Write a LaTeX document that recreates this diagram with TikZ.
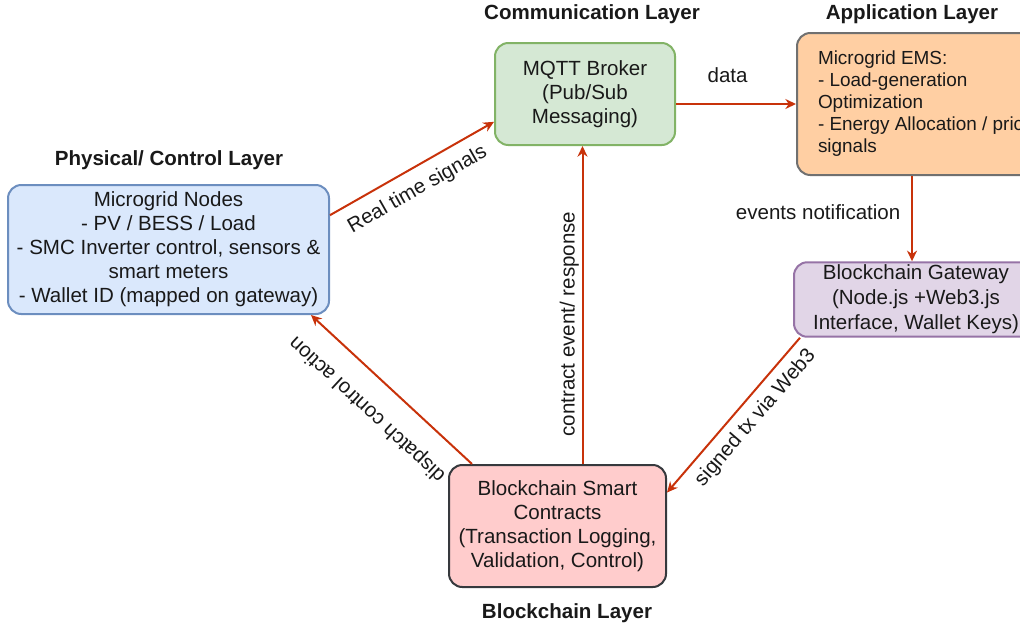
\documentclass[tikz,border=0pt]{standalone}
\usepackage{fontspec}
\setmainfont{Liberation Sans}
\usetikzlibrary{arrows.meta,calc}

\definecolor{physfill}{HTML}{DAE8FC}
\definecolor{physline}{HTML}{6C8EBF}
\definecolor{mqttfill}{HTML}{D5E8D4}
\definecolor{mqttline}{HTML}{82B366}
\definecolor{emsfill}{HTML}{FFCFA3}
\definecolor{emsline}{HTML}{707070}
\definecolor{gatefill}{HTML}{E1D5E7}
\definecolor{gateline}{HTML}{9673A6}
\definecolor{scfill}{HTML}{FFCCCC}
\definecolor{scline}{HTML}{36393D}
\definecolor{arrowred}{RGB}{200,50,10}

\begin{document}
\begin{tikzpicture}[x=0.75pt,y=-0.75pt,
  box/.style={draw, line width=1.5pt, rounded corners=10pt, align=center,
    inner sep=2pt, text=black!90, font=\fontsize{15.4}{18}\selectfont},
  arr/.style={draw=arrowred, line width=1.5pt, -{Stealth[length=8pt,width=7.5pt]}},
  lbl/.style={font=\fontsize{15.4}{18}\selectfont, inner sep=2pt, text=black!90},
  layer/.style={font=\bfseries\fontsize{15.4}{18}\selectfont, text=black!90}]

\useasboundingbox (0,0) rectangle (1020,629);
\clip (0,0) rectangle (1020,629);

% layer titles
\node[layer] (tcomm) at (592,14) {Communication Layer};
\node[layer] (tapp)  at (912,14) {Application Layer};
\node[layer] (tphys) at (169,160) {Physical/ Control Layer};
\node[layer] (tbc)   at (567,613) {Blockchain Layer};

% components
\node[box, fill=physfill, draw=physline, minimum width=240.75pt, minimum height=96.75pt]
  (phys) at (168.5,249.5)
  {Microgrid Nodes\\- PV / BESS / Load\\- SMC Inverter control, sensors \&\\smart meters\\- Wallet ID (mapped on gateway)};

\node[box, fill=mqttfill, draw=mqttline, minimum width=135pt, minimum height=76.5pt]
  (mqtt) at (585,94)
  {MQTT Broker\\(Pub/Sub\\Messaging)};

\node[box, fill=emsfill, draw=emsline, align=left, inner xsep=15.75pt,
  minimum height=106.5pt, anchor=west,
  font=\fontsize{14.2}{16.5}\selectfont]
  (ems) at (796,104)
  {Microgrid EMS:\\- Load-generation\\Optimization\\- Energy Allocation / price\\signals};

\node[box, fill=gatefill, draw=gateline, minimum width=183pt, minimum height=55pt,
  anchor=west, font=\fontsize{15.4}{18.75}\selectfont]
  (gate) at (793,299.5)
  {Blockchain Gateway\\(Node.js +Web3.js\\Interface, Wallet Keys)};

\node[box, fill=scfill, draw=scline, minimum width=162.75pt, minimum height=91.5pt]
  (sc) at (557.5,526)
  {Blockchain Smart\\Contracts\\(Transaction Logging,\\Validation, Control)};

% connectors
\draw[arr] (phys.12) -- (mqtt.197)
  node[lbl, pos=0.47, sloped, below=6pt] {Real time signals};

\draw[arr] (mqtt.east |- ems.west) -- (ems.west)
  node[lbl, pos=0.43, above=13pt] {data};

\path ($(ems.south west)+(116,0)$) coordinate (emsdrop);
\draw[arr] (emsdrop) -- (emsdrop |- gate.north)
  node[lbl, pos=0.42, left=6pt] {events notification};

\draw[arr] ($(gate.south west)+(7,0)$) -- (sc.17)
  node[lbl, pos=0.44, sloped, below=4pt] {signed tx via Web3};

\path ($(sc.north)+(25,0)$) coordinate (scup);
\draw[arr] (scup) -- (scup |- mqtt.south)
  node[lbl, pos=0.44, sloped, above=0pt] {contract event/ response};

\draw[arr] ($(sc.north west)+(24,0)$) -- ($(phys.south east)+(-19,0)$)
  node[lbl, pos=0.52, sloped, allow upside down, above=13pt] {dispatch control action};

\end{tikzpicture}
\end{document}
